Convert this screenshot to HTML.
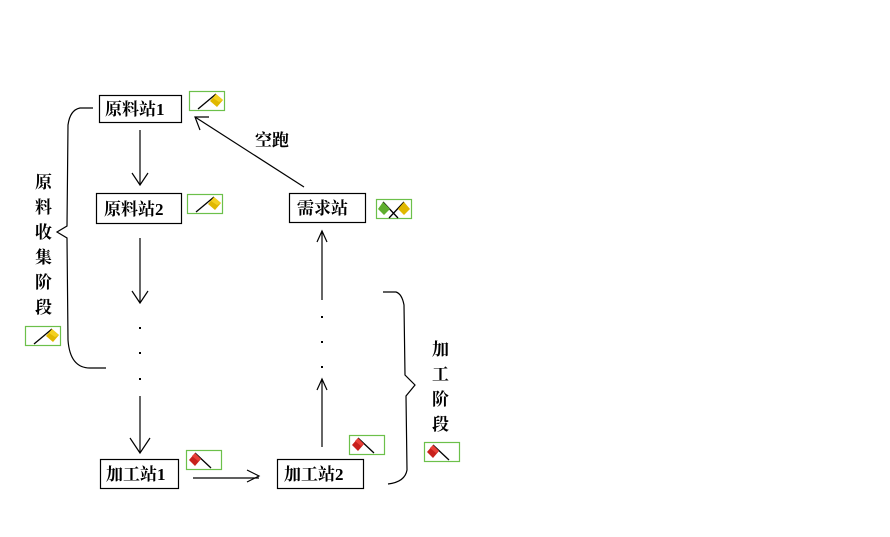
<!DOCTYPE html>
<html><head><meta charset="utf-8"><style>
html,body{margin:0;padding:0;background:#fff;}
svg{display:block;}
text{font-family:"Liberation Serif","Noto Serif CJK SC",serif;font-weight:bold;font-size:17px;fill:#000;}
</style></head><body>
<svg width="890" height="537" viewBox="0 0 890 537" xmlns="http://www.w3.org/2000/svg">
<defs>
<g id="yf">
<rect x="0.5" y="0.5" width="35" height="19" fill="#fff" stroke="#6cc04a" stroke-width="1.2"/>
<line x1="9" y1="18" x2="27" y2="3" stroke="#000" stroke-width="1.3"/>
<polygon points="27,3 34,9 28,16 21,10" fill="#e0b800"/>
<polygon points="27,3 34,9 30,11 24,7" fill="#f3d020"/>
</g>
<g id="rf">
<rect x="0.5" y="0.5" width="35" height="19" fill="#fff" stroke="#6cc04a" stroke-width="1.2"/>
<line x1="9" y1="3" x2="25" y2="18" stroke="#000" stroke-width="1.3"/>
<polygon points="9,3 15,9 9,16 3,10" fill="#c8201c"/>
<polygon points="9,3 15,9 12,11 6,6" fill="#e84038"/>
</g>
</defs>
<g fill="#fff" stroke="#000" stroke-width="1.2">
<rect x="99.5" y="95.5" width="82" height="27"/>
<rect x="96.5" y="193.5" width="85" height="30"/>
<rect x="289.5" y="193.5" width="76" height="29"/>
<rect x="100.5" y="459.5" width="78" height="29"/>
<rect x="277.5" y="459.5" width="86" height="29"/>
</g>
<text x="105" y="115">原料站1</text>
<text x="104" y="215">原料站2</text>
<text x="297" y="214">需求站</text>
<text x="106" y="480">加工站1</text>
<text x="284" y="480">加工站2</text>
<text x="255" y="146">空跑</text>
<g>
<text x="35" y="188">原</text><text x="35" y="213">料</text><text x="35" y="238">收</text>
<text x="35" y="263">集</text><text x="35" y="288">阶</text><text x="35" y="313">段</text>
<text x="432" y="355">加</text><text x="432" y="380">工</text><text x="432" y="405">阶</text><text x="432" y="430">段</text>
</g>
<use href="#yf" x="189" y="91"/>
<use href="#yf" x="187" y="194"/>
<use href="#yf" x="25" y="326"/>
<use href="#rf" x="186" y="450"/>
<use href="#rf" x="349" y="435"/>
<use href="#rf" x="424" y="442"/>
<g>
<rect x="376.5" y="199.5" width="35" height="19" fill="#fff" stroke="#6cc04a" stroke-width="1.2"/>
<line x1="383" y1="202" x2="398" y2="218" stroke="#000" stroke-width="1.3"/>
<line x1="404" y1="202" x2="389" y2="218" stroke="#000" stroke-width="1.3"/>
<polygon points="383,202 390,209 384,215 378,209" fill="#5fae2e"/>
<polygon points="404,202 410,209 404,215 398,209" fill="#e0b800"/>
</g>
<g stroke="#000" stroke-width="1.2" fill="none">
<line x1="140" y1="130" x2="140" y2="185"/><polyline points="132,173 140,185 148,173"/>
<line x1="140" y1="238" x2="140" y2="303"/><polyline points="132,291 140,303 148,291"/>
<line x1="140" y1="396" x2="140" y2="453"/><polyline points="130,438 140,453 150,438"/>
<line x1="193" y1="478" x2="259" y2="478"/><polyline points="247,470 259,476 247,482"/>
<line x1="322" y1="447" x2="322" y2="379"/><polyline points="317,390 322,379 327,390"/>
<line x1="322" y1="300" x2="322" y2="231"/><polyline points="317,242 322,231 327,242"/>
<line x1="304" y1="187" x2="195" y2="117"/><polyline points="200,130 195,117 209,117"/>
<path d="M93,108 L80,108 Q70,110 68,125 L67,226 L57,232 L67,238 L68,340 Q70,368 90,368 L106,368"/>
<path d="M383,292 L396,292 Q402,294 404,305 L405,375 L415,385 L406,396 L407,470 Q405,482 388,484"/>
</g>
<g fill="#000">
<rect x="139" y="327" width="2" height="2"/><rect x="139" y="352" width="2" height="2"/><rect x="139" y="378" width="2" height="2"/>
<rect x="321" y="316" width="2" height="2"/><rect x="321" y="341" width="2" height="2"/><rect x="321" y="366" width="2" height="2"/>
</g>
</svg>
</body></html>
